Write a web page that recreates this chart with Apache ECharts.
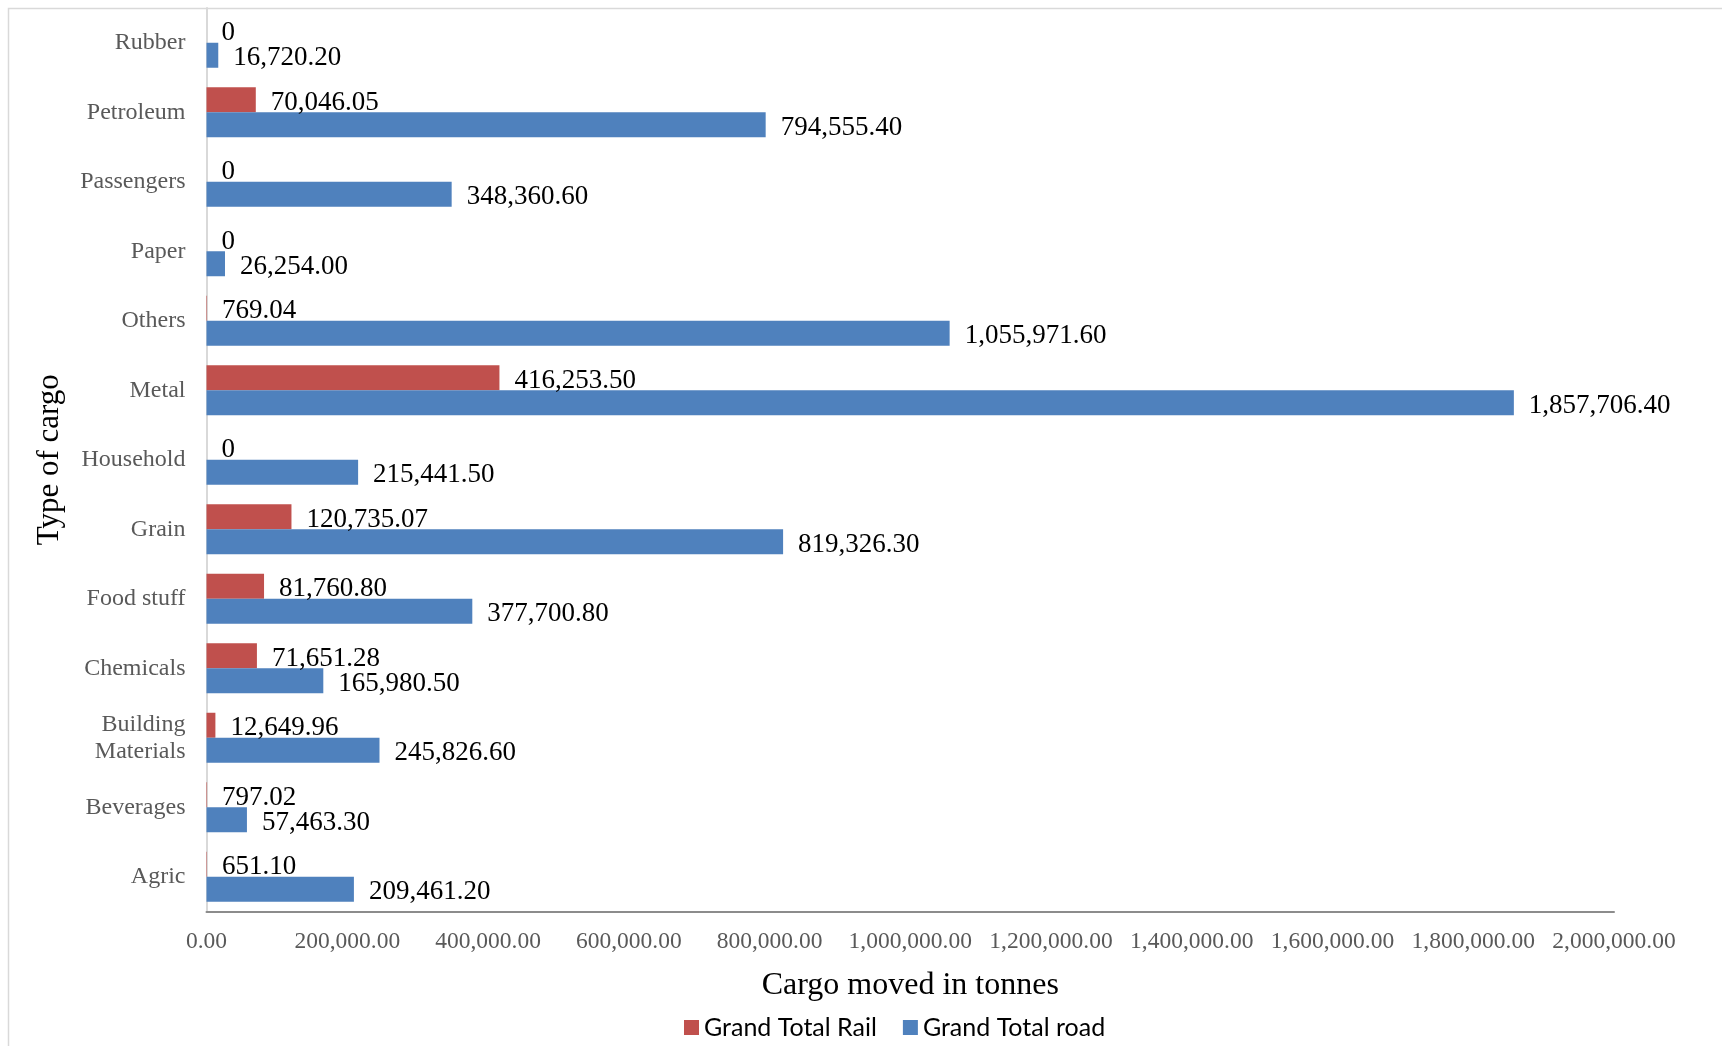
<!DOCTYPE html>
<html>
<head>
<meta charset="utf-8">
<script src="https://cdn.jsdelivr.net/npm/echarts@6/dist/echarts.min.js"></script>
<style>
  html, body { margin: 0; padding: 0; background: #ffffff; }
  #chart { width: 1722px; height: 1046px; }
</style>
</head>
<body>
<div id="chart"></div>
<script>
// Cargo types, listed bottom to top along the vertical axis
const categories = ['Agric', 'Beverages', 'Building\nMaterials', 'Chemicals', 'Food stuff', 'Grain',
  'Household', 'Metal', 'Others', 'Paper', 'Passengers', 'Petroleum', 'Rubber'];

// Tonnes moved by rail
const railValues = [651.10, 797.02, 12649.96, 71651.28, 81760.80, 120735.07,
  0, 416253.50, 769.04, 0, 0, 70046.05, 0];

// Tonnes moved by road
const roadValues = [209461.20, 57463.30, 245826.60, 165980.50, 377700.80, 819326.30,
  215441.50, 1857706.40, 1055971.60, 26254.00, 348360.60, 794555.40, 16720.20];

// Value axis ticks
const xTicks = [0, 200000, 400000, 600000, 800000, 1000000, 1200000, 1400000, 1600000, 1800000, 2000000];

const seriesNames = ['Grand Total Rail', 'Grand Total road'];

const serif = '"Liberation Serif", "DejaVu Serif", serif';

function fmt2(v) {
  return v.toLocaleString('en-US', { minimumFractionDigits: 2, maximumFractionDigits: 2 });
}
function labelFmt(p) {
  return p.value === 0 ? '0' : fmt2(p.value);
}

const chart = echarts.init(document.getElementById('chart'));

const dataLabel = {
  show: true,
  position: 'right',
  distance: 15,
  offset: [0, 3],
  formatter: labelFmt,
  fontFamily: serif,
  fontSize: 27,
  color: '#000000'
};

chart.setOption({
  animation: false,
  backgroundColor: '#ffffff',
  graphic: [{
    type: 'rect',
    shape: { x: 8.5, y: 8.5, width: 1740, height: 1060 },
    style: { fill: 'none', stroke: '#d9d9d9', lineWidth: 1.5 },
    silent: true,
    z: -10
  }],
  grid: { left: 206.5, right: 108, top: 8, bottom: 134.5, containLabel: false },
  legend: {
    data: seriesNames,
    left: 679,
    top: 1010,
    itemWidth: 15,
    itemHeight: 15,
    itemGap: 26,
    icon: 'rect',
    textStyle: { fontFamily: 'Lato, "Liberation Sans", sans-serif', fontSize: 25, color: '#000000' }
  },
  xAxis: {
    type: 'value',
    min: xTicks[0],
    max: xTicks[xTicks.length - 1],
    interval: xTicks[1] - xTicks[0],
    name: 'Cargo moved in tonnes',
    nameLocation: 'middle',
    nameGap: 58,
    nameTextStyle: { fontFamily: serif, fontSize: 32, color: '#000000' },
    axisLine: { show: true, lineStyle: { color: '#8c8c8c', width: 2 } },
    axisTick: { show: false },
    splitLine: { show: false },
    axisLabel: {
      margin: 18,
      fontFamily: serif,
      fontSize: 23.5,
      color: '#595959',
      formatter: v => fmt2(v)
    }
  },
  yAxis: {
    type: 'category',
    data: categories,
    name: 'Type of cargo',
    nameLocation: 'middle',
    nameGap: 141,
    nameTextStyle: { fontFamily: serif, fontSize: 31, color: '#000000' },
    axisLine: { show: true, lineStyle: { color: '#d9d9d9', width: 2 } },
    axisTick: { show: false },
    axisLabel: {
      margin: 21,
      fontFamily: serif,
      fontSize: 24,
      lineHeight: 27,
      color: '#595959'
    }
  },
  series: [
    {
      name: seriesNames[0],
      type: 'bar',
      data: railValues,
      barWidth: 25,
      barGap: '0%',
      itemStyle: { color: '#c0504d' },
      label: dataLabel
    },
    {
      name: seriesNames[1],
      type: 'bar',
      data: roadValues,
      barWidth: 25,
      barGap: '0%',
      itemStyle: { color: '#4f81bd' },
      label: dataLabel
    }
  ]
});
</script>
</body>
</html>
